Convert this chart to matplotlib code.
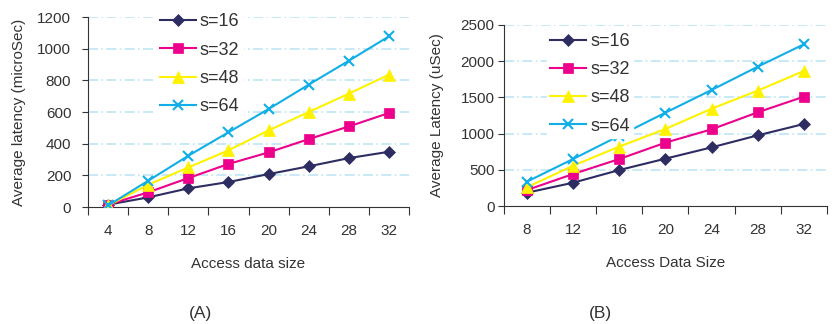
import matplotlib
matplotlib.use("Agg")
import matplotlib.pyplot as plt
import numpy as np

plt.rcParams['font.family'] = ['Liberation Sans', 'DejaVu Sans']

# panel A
sizes_a = ["4", "8", "12", "16", "20", "24", "28", "32"]
a_s16 = [15, 61, 118, 158, 208, 257, 309, 349]
a_s32 = [15, 93, 183, 272, 345, 429, 509, 594]
a_s48 = [10, 141, 250, 358, 484, 600, 716, 836]
a_s64 = [10, 166, 324, 472, 619, 773, 924, 1078]

# panel B
sizes_b = ["8", "12", "16", "20", "24", "28", "32"]
b_s16 = [184, 322, 497, 654, 810, 976, 1133]
b_s32 = [221, 442, 649, 875, 1059, 1294, 1510]
b_s48 = [258, 557, 820, 1064, 1344, 1593, 1865]
b_s64 = [336, 649, 970, 1289, 1602, 1924, 2233]

labels = ["s=16", "s=32", "s=48", "s=64"]
colors = ["#2e2d62", "#ec008c", "#fff200", "#12aee8"]
markers = ["D", "s", "^", "x"]
msizes = [6, 7, 8, 7]
grid_col = "#bfe5f5"


def draw(ax, cats, series, ymax, ystep, xlabel, ylabel, leg_anchor, ypad, ylabpad):
    x = np.arange(len(cats))
    for vals, lab, c, m, ms in zip(series, labels, colors, markers, msizes):
        ax.plot(x, vals, color=c, marker=m, markersize=ms, linewidth=1.5,
                markeredgewidth=1.5 if m == "x" else 0.5, label=lab, zorder=3)
    ax.set_xlim(-0.5, len(cats) - 0.5)
    ax.set_ylim(0, ymax)
    ax.set_yticks(np.arange(0, ymax + 1, ystep))
    # ticks between categories, labels centred
    ax.set_xticks(np.arange(len(cats) + 1) - 0.5)
    ax.set_xticklabels([])
    ax.set_xticks(x, minor=True)
    ax.set_xticklabels(cats, minor=True)
    ax.tick_params(axis='x', which='minor', length=0, labelsize=11, pad=12, colors="#333333")
    ax.tick_params(axis='x', which='major', length=6, direction='out', color="#333333")
    ax.tick_params(axis='y', length=4, direction='out', labelsize=11, pad=ypad,
                   color="#333333", labelcolor="#333333")
    for yv in np.arange(ystep, ymax + 1, ystep):
        ax.axhline(yv, color=grid_col, linestyle=(0, (6, 2, 1, 2)), linewidth=1.2, zorder=1)
    ax.spines['top'].set_visible(False)
    ax.spines['right'].set_visible(False)
    ax.spines['left'].set_color("#333333")
    ax.spines['bottom'].set_color("#333333")
    ax.set_xlabel(xlabel, fontsize=11, color="#333333", labelpad=14)
    ax.set_ylabel(ylabel, fontsize=11, color="#333333", labelpad=ylabpad)
    leg = ax.legend(loc='upper left', bbox_to_anchor=leg_anchor, frameon=True, framealpha=1,
                    edgecolor='white', fontsize=13, handlelength=2.0, handletextpad=0.2,
                    labelspacing=0.62, borderpad=0.2, fancybox=False)
    leg.set_zorder(4)
    for t in leg.get_texts():
        t.set_color("#333333")


fig = plt.figure(figsize=(8.34, 3.24), dpi=100)
ax1 = fig.add_axes([0.1055, 0.361, 0.385, 0.5865])
ax2 = fig.add_axes([0.604, 0.364, 0.3876, 0.559])

draw(ax1, sizes_a, [a_s16, a_s32, a_s48, a_s64], 1200, 200,
     "Access data size", "Average latency (microSec)", (0.185, 1.085), 8, 8)
draw(ax2, sizes_b, [b_s16, b_s32, b_s48, b_s64], 2500, 500,
     "Access Data Size", "Average Latency (uSec)", (0.105, 1.025), 2.5, 12)

fig.text(0.24, 0.02, "(A)", fontsize=12.5, color="#333333", ha='center')
fig.text(0.72, 0.02, "(B)", fontsize=12.5, color="#333333", ha='center')

fig.savefig("out.png", dpi=100)
